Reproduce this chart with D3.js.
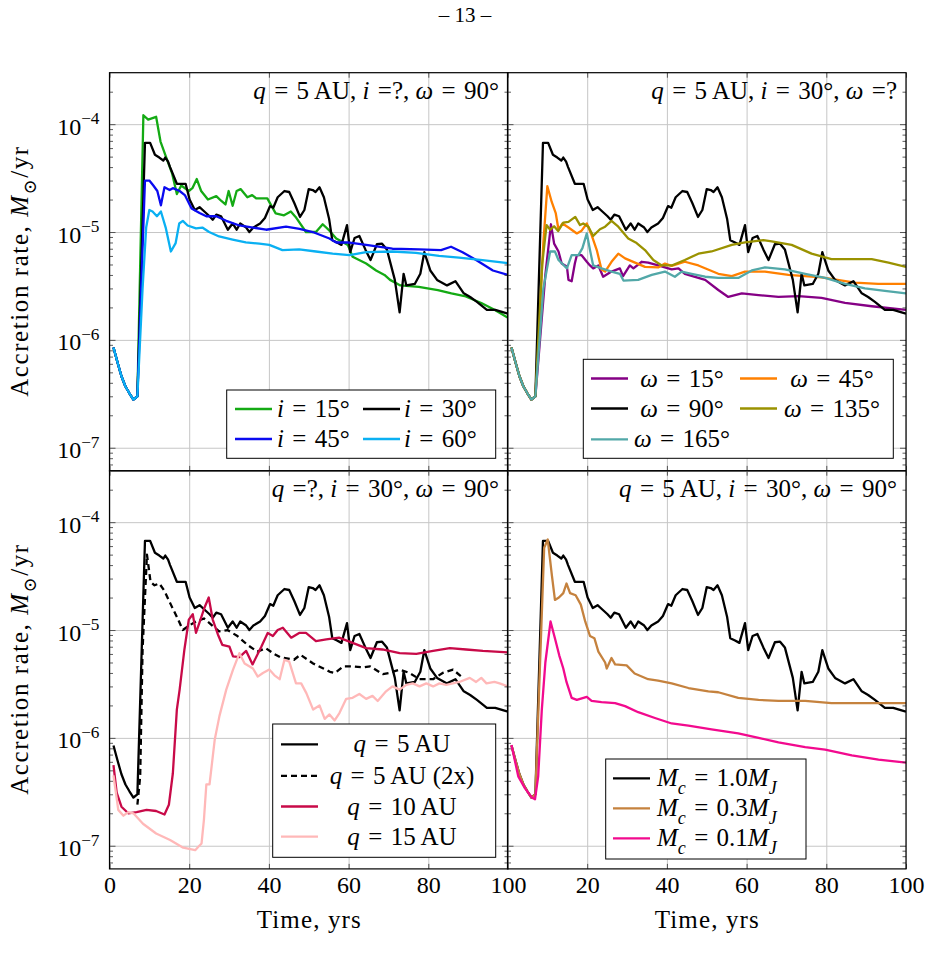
<!DOCTYPE html>
<html>
<head>
<meta charset="utf-8">
<script src="https://cdn.jsdelivr.net/npm/d3@7"></script>
<style>
  body { margin: 0; background: #fff; }
</style>
</head>
<body>
<svg id="chart" width="931" height="979" font-family="'Liberation Serif', 'DejaVu Serif', serif"></svg>
<script>
// ---- data: [time in yrs, accretion rate in Msun/yr] ----
const xTicks = [0, 20, 40, 60, 80, 100];
const yMajor = [1e-7, 1e-6, 1e-5, 1e-4];

// shared early dip before the capture (same in the i / omega / Mc runs)
const dip = [[1,8.5e-7],[2,6.2e-7],[3,4.6e-7],[4,3.7e-7],[5,3.2e-7],[6,2.8e-7],[7,3.0e-7]];

// reference run q = 5 AU, i = 30, omega = 90, Mc = 1.0 MJ
const refQ5 = dip.concat([[8.9,6.7e-5],[10.2,6.7e-5],[11.4,5.2e-5],[12.5,4.9e-5],[13.5,4.6e-5],[14,4.9e-5],[14.7,4.5e-5],[15.2,4.0e-5],[16.9,2.8e-5],[19.1,2.8e-5],[20.1,2.0e-5],[21.4,1.6e-5],[22.6,1.7e-5],[23.8,1.55e-5],[25.1,1.4e-5],[25.9,1.3e-5],[26.8,1.45e-5],[28,1.4e-5],[29.7,1.05e-5],[30.9,1.2e-5],[31.9,1.05e-5],[32.8,1.2e-5],[34.3,1.1e-5],[35.1,1.0e-5],[36.1,1.1e-5],[37.8,1.2e-5],[39,1.35e-5],[40.3,1.74e-5],[41.1,1.68e-5],[42.2,2.1e-5],[43.9,2.4e-5],[45.1,2.35e-5],[46.4,1.85e-5],[47.8,1.38e-5],[48.9,1.6e-5],[50,2.5e-5],[51,2.45e-5],[51.7,2.35e-5],[52.7,2.6e-5],[53.8,2.1e-5],[55.1,1.33e-5],[55.9,8.4e-6],[57.1,8e-6],[58.2,7.6e-6],[59.6,1.16e-5],[60.4,6.5e-6],[61.5,8.8e-6],[62.7,9.2e-6],[64.2,6.9e-6],[65.5,5.5e-6],[67.1,7.7e-6],[68.4,7.8e-6],[69.6,6.9e-6],[71.6,3.6e-6],[72.8,1.8e-6],[73.8,4.1e-6],[74.5,3.2e-6],[76.6,3.3e-6],[78,4.1e-6],[79,6.5e-6],[80.5,4.4e-6],[82.2,3.6e-6],[84.7,3.2e-6],[86.8,3.5e-6],[88.9,2.7e-6],[90.5,2.5e-6],[92.2,2.25e-6],[94.7,1.9e-6],[96.8,1.9e-6],[98.9,1.8e-6],[100,1.75e-6]]);

// panel 1: inclination
const inc15 = dip.concat([[8.5,1.21e-4],[9.7,1.1e-4],[11.7,1.17e-4],[12.8,6.9e-5],[14,5.2e-5],[15.7,3.5e-5],[16.9,2.25e-5],[18,2.7e-5],[19.9,2.4e-5],[20.8,2.55e-5],[21.9,3.1e-5],[23,2.4e-5],[24.7,2.0e-5],[26.8,2.15e-5],[28,1.95e-5],[29.1,1.8e-5],[29.9,2.4e-5],[30.9,1.75e-5],[31.9,2.4e-5],[32.9,2.5e-5],[34.6,2.1e-5],[35.8,2.2e-5],[36.8,2.05e-5],[39.6,2.05e-5],[41.7,1.49e-5],[43.8,1.43e-5],[45.5,1.55e-5],[46.7,1.38e-5],[49.3,1.0e-5],[51.8,1.0e-5],[53.5,1.18e-5],[55.2,1.03e-5],[56.9,8.7e-6],[59.8,7.6e-6],[61,5.9e-6],[64.4,5.1e-6],[66.9,4.4e-6],[69,4.0e-6],[70.4,3.6e-6],[73,3.2e-6],[77.6,3.1e-6],[82.4,2.9e-6],[85.8,2.7e-6],[89.1,2.55e-6],[93.3,2.2e-6],[96.6,1.9e-6],[100,1.6e-6]]);
const inc45 = dip.concat([[8.9,3.0e-5],[10,3.0e-5],[11,2.7e-5],[12,2.4e-5],[12.9,1.77e-5],[13.8,2.6e-5],[15.1,2.45e-5],[15.9,2.55e-5],[17.6,2.4e-5],[18.9,2.2e-5],[20.6,1.65e-5],[22.6,1.5e-5],[24.3,1.4e-5],[26.8,1.4e-5],[29.3,1.27e-5],[32.6,1.15e-5],[36,1.1e-5],[39.3,1.05e-5],[44.3,1.12e-5],[47.7,1.07e-5],[51,1.0e-5],[55.2,8.7e-6],[56.9,8.0e-6],[59.8,8.0e-6],[64.4,7.6e-6],[71,7.0e-6],[77.7,6.9e-6],[83.2,6.8e-6],[85.7,7.3e-6],[88.6,6.5e-6],[92,5.5e-6],[96.2,4.4e-6],[100,4.0e-6]]);
const inc60 = dip.concat([[8.3,3e-6],[9.2,1.1e-5],[10,1.6e-5],[10.8,1.55e-5],[11.9,1.4e-5],[12.9,1.55e-5],[14.1,1.1e-5],[15.4,6.6e-6],[16.6,7.9e-6],[17.5,1.2e-5],[18.4,1.27e-5],[19.6,1.15e-5],[21.7,1.08e-5],[23.3,1.1e-5],[25,1.0e-5],[27.5,9.1e-6],[30.9,8.5e-6],[34.2,8.0e-6],[37.6,7.8e-6],[40.1,7.6e-6],[43.4,6.8e-6],[47.6,6.9e-6],[51.8,6.6e-6],[56,6.3e-6],[60.2,6.1e-6],[64.4,6.5e-6],[71,6.6e-6],[76.9,6.4e-6],[82.7,6.0e-6],[87.7,5.8e-6],[93.6,5.5e-6],[100,5.15e-6]]);

// panel 2: argument of pericentre
const om15 = dip.concat([[9.5,4e-6],[10.9,1.18e-5],[11.7,7.8e-6],[12.8,6.6e-6],[13.6,5.1e-6],[14.9,4.8e-6],[15.3,3.6e-6],[16.1,3.5e-6],[16.9,5.1e-6],[17.4,6.1e-6],[18.6,6.1e-6],[19.9,5.3e-6],[20.7,4.9e-6],[21.5,4.6e-6],[22.8,4.9e-6],[24,3.85e-6],[26.1,4.3e-6],[28.2,4.6e-6],[29,3.9e-6],[30.7,4.9e-6],[31.6,4.6e-6],[33.7,5.3e-6],[35.3,5.2e-6],[37.8,4.9e-6],[41.2,4.5e-6],[42.9,4.6e-6],[44.5,4.1e-6],[49.6,3.6e-6],[52.9,2.9e-6],[55.4,2.5e-6],[58.8,2.7e-6],[63,2.6e-6],[68,2.5e-6],[73,2.55e-6],[78.8,2.45e-6],[84.7,2.2e-6],[91.4,2.05e-6],[100,1.9e-6]]);
const om45 = dip.concat([[9,8e-6],[10,2.66e-5],[11.1,1.9e-5],[12.1,1.5e-5],[12.8,1.05e-5],[13.8,1.2e-5],[15.3,1.1e-5],[17.4,9.7e-6],[18.6,1.03e-5],[19.9,1.2e-5],[21,9.6e-6],[22.4,6.8e-6],[23.6,4.5e-6],[24.5,4.3e-6],[26.1,5.3e-6],[27.8,6.3e-6],[29.5,5.7e-6],[32,5.2e-6],[34.5,4.75e-6],[37.8,4.7e-6],[39.5,5.1e-6],[41.2,4.85e-6],[44.5,5.3e-6],[47.9,4.9e-6],[52.9,4.1e-6],[56.3,3.9e-6],[59.6,4.3e-6],[64.6,4.3e-6],[70.5,4.0e-6],[78.8,3.8e-6],[87.2,3.4e-6],[93,3.3e-6],[100,3.3e-6]]);
const om135 = dip.concat([[8.7,5e-6],[9.8,1.16e-5],[10.7,1.05e-5],[11.7,1.13e-5],[12.7,1.02e-5],[14,1.22e-5],[15.3,1.24e-5],[17,1.38e-5],[18.2,1.16e-5],[19,1.2e-5],[20.3,1.12e-5],[21.5,9.2e-6],[23.2,1.06e-5],[24.5,1.12e-5],[26.1,1.27e-5],[27.8,1.12e-5],[30.3,8.7e-6],[32.4,7.9e-6],[34.5,6.8e-6],[36.6,5.5e-6],[38.7,4.9e-6],[41.2,4.9e-6],[44.5,5.5e-6],[47.9,6.3e-6],[51.2,6.6e-6],[56.3,7.6e-6],[59.6,8.0e-6],[64.2,8.4e-6],[66.3,8.2e-6],[71.3,7.6e-6],[76.3,6.3e-6],[81.3,5.6e-6],[87.2,5.6e-6],[91.4,5.6e-6],[95.6,5.2e-6],[100,4.75e-6]]);
const om165 = dip.concat([[9,3e-6],[10.7,6.6e-6],[11.9,6.6e-6],[12.8,5.5e-6],[14.9,4.6e-6],[16.1,6.1e-6],[17.8,6.1e-6],[18.8,7.1e-6],[19.9,9.7e-6],[20.7,6.8e-6],[21.5,4.9e-6],[23.6,4.6e-6],[26.1,4.3e-6],[28.2,4.1e-6],[29.1,3.55e-6],[32.8,3.6e-6],[36.2,4.0e-6],[39.5,4.3e-6],[42,3.85e-6],[43.7,4.3e-6],[46.2,4.1e-6],[49.6,3.85e-6],[52.9,3.75e-6],[57.9,3.75e-6],[61.3,4.4e-6],[64.6,4.7e-6],[69.6,4.5e-6],[74.7,4.1e-6],[79.7,3.75e-6],[84.7,3.3e-6],[89.7,3.0e-6],[94.7,2.85e-6],[100,2.7e-6]]);

// panel 3: pericentre distance
const q5x2 = [[7,2.4e-7],[7.7,4.4e-7],[8.3,6.6e-6],[9.4,5.0e-5],[10.3,2.8e-5],[11.3,2.6e-5],[12.5,2.7e-5],[13.8,2.3e-5],[15.4,1.72e-5],[17.1,1.28e-5],[18.4,1.0e-5],[20,1.1e-5],[21.7,1.2e-5],[23.7,1.28e-5],[25.8,1.1e-5],[27.5,9.7e-6],[29.6,1.0e-5],[32.1,8.8e-6],[34.6,7.3e-6],[37.1,6.3e-6],[39.2,6.8e-6],[41.3,6.0e-6],[42.8,5.6e-6],[46.3,5.3e-6],[47.9,5.9e-6],[51.1,4.9e-6],[55.3,4.1e-6],[56.6,4.0e-6],[58.7,4.6e-6],[61.2,4.6e-6],[63.7,4.5e-6],[65.4,4.6e-6],[68.6,3.9e-6],[70.2,4.0e-6],[72.8,4.3e-6],[75.3,4.0e-6],[77.8,3.5e-6],[81.2,3.5e-6],[83.6,4.0e-6],[86.2,4.3e-6],[88.3,3.7e-6]];
const q10 = [[1,5.6e-7],[1.8,3.1e-7],[3,2.3e-7],[4.7,2.0e-7],[6.8,2.05e-7],[9.3,2.15e-7],[11.7,2.1e-7],[13.8,1.95e-7],[14.9,2.4e-7],[15.9,4.7e-7],[16.9,1.83e-6],[17.6,2.8e-6],[18.8,6.6e-6],[19.9,1.25e-5],[20.9,1.4e-5],[21.7,9.4e-6],[23,1.3e-5],[23.8,1.6e-5],[24.9,2.0e-5],[25.9,1.25e-5],[27.2,9.1e-6],[28.3,7.3e-6],[30.1,7.0e-6],[31,5.7e-6],[32.6,5.6e-6],[34.3,6.4e-6],[35.9,4.8e-6],[38.1,7.0e-6],[39.7,9.4e-6],[41,8.8e-6],[42.2,1.0e-5],[43.5,1.05e-5],[45.6,8.5e-6],[47.6,9.4e-6],[49.3,9.4e-6],[51.8,7.9e-6],[54.4,8.2e-6],[57.6,8.5e-6],[61,7.6e-6],[64.4,6.8e-6],[68.5,6.6e-6],[72.8,6.1e-6],[77,6.0e-6],[81.2,6.4e-6],[85.4,6.8e-6],[89.5,6.6e-6],[93.7,6.4e-6],[100,6.2e-6]];
const q15 = [[1,4.5e-7],[2.2,2.15e-7],[3.5,1.9e-7],[4.7,2.05e-7],[6,2.0e-7],[8.4,1.6e-7],[11.7,1.3e-7],[15.2,1.13e-7],[18.5,9.6e-8],[21.5,9.1e-8],[22.3,9.8e-8],[23.1,1.05e-7],[23.7,1.75e-7],[24.3,3.7e-7],[25.1,3.7e-7],[26.4,9.6e-7],[27.6,1.6e-6],[29.3,2.8e-6],[31,4.3e-6],[32.6,6.1e-6],[33.9,4.9e-6],[36,4.4e-6],[37.2,3.7e-6],[38.5,4.0e-6],[40.1,4.3e-6],[41.4,3.8e-6],[42.7,3.5e-6],[43.9,5.3e-6],[45.1,5.1e-6],[46.8,3.2e-6],[48.1,3.2e-6],[49.4,2.6e-6],[51.1,1.83e-6],[52.7,2.0e-6],[54,1.5e-6],[55.2,1.65e-6],[56.5,1.45e-6],[57.7,1.7e-6],[59.4,2.3e-6],[61,2.35e-6],[62.7,2.55e-6],[64.4,2.3e-6],[66,2.45e-6],[67.3,2.2e-6],[69.4,2.7e-6],[71,3.0e-6],[72.8,2.8e-6],[74.5,3.1e-6],[76.1,3.2e-6],[77.8,3.0e-6],[79.5,3.2e-6],[81.2,3.0e-6],[82.8,3.2e-6],[84.5,3.1e-6],[87.8,3.3e-6],[90.4,3.6e-6],[92,3.3e-6],[93.3,3.6e-6],[94.6,3.2e-6],[96.6,3.3e-6],[97.9,3.2e-6],[100,3.0e-6]];

// panel 4: companion mass
const mc03 = dip.concat([[9.2,5.8e-5],[10.1,6.9e-5],[11.1,3.3e-5],[11.9,1.9e-5],[12.9,2.0e-5],[14,2.2e-5],[14.8,2.7e-5],[15.7,2.2e-5],[17.1,2.1e-5],[18.4,1.72e-5],[19.5,1.2e-5],[20.7,8.8e-6],[21.8,8.4e-6],[22.8,6.3e-6],[24.5,5.0e-6],[24.9,4.4e-6],[26.1,5.5e-6],[27,4.8e-6],[29.9,4.7e-6],[31.9,3.95e-6],[35.3,3.5e-6],[37.8,3.4e-6],[41.2,3.2e-6],[45.4,2.9e-6],[50.4,2.7e-6],[52.9,2.65e-6],[57.9,2.35e-6],[63,2.25e-6],[68,2.2e-6],[74.7,2.2e-6],[81.3,2.1e-6],[88,2.1e-6],[100,2.1e-6]]);
const mc01 = [[1,8.6e-7],[2.7,4.4e-7],[4.4,3.4e-7],[6.1,2.8e-7],[6.9,2.7e-7],[7.7,4.4e-7],[8.6,1.8e-6],[9.5,5e-6],[10.8,1.2e-5],[11.9,8.4e-6],[13,5.8e-6],[14,4.4e-6],[14.8,3.3e-6],[16.1,2.35e-6],[17.4,2.25e-6],[19.9,2.4e-6],[21.1,2.2e-6],[23.6,2.15e-6],[27,2.1e-6],[29.5,1.97e-6],[32.8,1.73e-6],[37,1.53e-6],[41.2,1.36e-6],[45.4,1.3e-6],[51.2,1.2e-6],[57.9,1.1e-6],[63,1.0e-6],[68,9.1e-7],[74.7,8.2e-7],[79.7,7.8e-7],[86.4,6.9e-7],[93.1,6.3e-7],[100,5.9e-7]];

// ---- layout ----
const FONT = "'Liberation Serif', 'DejaVu Serif', serif";
const FS = 25;
const EQ = "\u2004=\u2004";   // math spacing around "="
const colX = [109.5, 507.5], rowY = [72.7, 470.7];
const PW = 398.5, PH = 398.2;

const svg = d3.select("#chart");
svg.append("rect").attr("width", 931).attr("height", 979).attr("fill", "#fff");

// rich text helper: segs = [[text, kind]], kind: r roman, i italic, sub italic subscript, subr roman subscript
function rich(sel, segs, fs) {
  let shift = 0;
  segs.forEach(([t, k]) => {
    const sub = k === "sub" || k === "subr";
    const target = sub ? fs * 0.3 : 0;
    sel.append("tspan")
      .attr("dy", target - shift)
      .attr("font-style", (k === "i" || k === "sub") ? "italic" : "normal")
      .attr("font-size", sub ? fs * 0.72 : fs)
      .text(t);
    shift = target;
  });
}

svg.append("text").attr("x", 465).attr("y", 22).attr("text-anchor", "middle")
  .attr("font-family", FONT).attr("font-size", 21).text("– 13 –");

const panels = [
  { c: 0, r: 0,
    title: [["q","i"],[EQ + "5 AU, ","r"],["i","i"],["\u2004=?, ","r"],["ω","i"],[EQ + "90°","r"]],
    series: [
      { d: inc15, color: "#14aa14", lab: [["i","i"],[EQ + "15°","r"]] },
      { d: refQ5, color: "#000", lab: [["i","i"],[EQ + "30°","r"]] },
      { d: inc45, color: "#0a0af0", lab: [["i","i"],[EQ + "45°","r"]] },
      { d: inc60, color: "#0ab0f2", lab: [["i","i"],[EQ + "60°","r"]] }
    ],
    legend: { box: [226.7, 390, 269, 68.3], anchor: "start",
      slots: [[235, 409, 277], [363, 409, 404], [235, 439, 277], [363, 439, 404]] } },
  { c: 1, r: 0,
    title: [["q","i"],[EQ + "5 AU, ","r"],["i","i"],[EQ + "30°, ","r"],["ω","i"],["\u2004=?","r"]],
    series: [
      { d: om15, color: "#850085", lab: [["ω","i"],[EQ + "15°","r"]] },
      { d: om45, color: "#ff8000", lab: [["ω","i"],[EQ + "45°","r"]] },
      { d: refQ5, color: "#000", lab: [["ω","i"],[EQ + "90°","r"]] },
      { d: om135, color: "#9a9200", lab: [["ω","i"],[EQ + "135°","r"]] },
      { d: om165, color: "#52a8a8", lab: [["ω","i"],[EQ + "165°","r"]] }
    ],
    legend: { box: [583.3, 359.3, 310, 99], anchor: "middle",
      slots: [[591, 378.5, 682], [740, 378.5, 832], [591, 408.5, 682], [740, 408.5, 832], [591, 439.3, 682]] } },
  { c: 0, r: 1,
    title: [["q","i"],["\u2004=?, ","r"],["i","i"],[EQ + "30°, ","r"],["ω","i"],[EQ + "90°","r"]],
    series: [
      { d: refQ5, color: "#000", lab: [["q","i"],[EQ + "5 AU","r"]] },
      { d: q5x2, color: "#000", dash: "6,4", lab: [["q","i"],[EQ + "5 AU (2x)","r"]] },
      { d: q10, color: "#c80a48", lab: [["q","i"],[EQ + "10 AU","r"]] },
      { d: q15, color: "#ffb8b8", lab: [["q","i"],[EQ + "15 AU","r"]] }
    ],
    legend: { box: [272.7, 724, 223, 133.3], anchor: "middle",
      slots: [[281, 744.3, 402], [281, 775.8, 402], [281, 806.5, 402], [281, 836.7, 402]] } },
  { c: 1, r: 1,
    title: [["q","i"],[EQ + "5 AU, ","r"],["i","i"],[EQ + "30°, ","r"],["ω","i"],[EQ + "90°","r"]],
    series: [
      { d: refQ5, color: "#000", lab: [["M","i"],["c","sub"],[EQ + "1.0","r"],["M","i"],["J","sub"]] },
      { d: mc03, color: "#c5823e", lab: [["M","i"],["c","sub"],[EQ + "0.3","r"],["M","i"],["J","sub"]] },
      { d: mc01, color: "#f20a8e", lab: [["M","i"],["c","sub"],[EQ + "0.1","r"],["M","i"],["J","sub"]] }
    ],
    legend: { box: [605.7, 759, 200.3, 100], anchor: "start",
      slots: [[613, 778.3, 657], [613, 808.3, 657], [613, 838.3, 657]] } }
];

const minorTicks = [];
for (let e = -8; e <= -4; e++) for (let k = 2; k <= 9; k++) minorTicks.push(k * Math.pow(10, e));

panels.forEach((p, pi) => {
  const x0 = colX[p.c], y0 = rowY[p.r];
  const x = d3.scaleLinear().domain([0, 100]).range([x0, x0 + PW]);
  const y = d3.scaleLog().domain([6.1e-8, 3.0e-4]).range([y0 + PH, y0]);
  const minors = minorTicks.filter(v => v > 6.1e-8 && v < 3e-4);
  const g = svg.append("g");

  // grid
  g.append("g").attr("transform", `translate(0,${y0 + PH})`)
    .call(d3.axisBottom(x).tickValues(xTicks).tickSize(-PH).tickFormat(""))
    .call(a => a.select(".domain").remove())
    .call(a => a.selectAll("line").attr("stroke", "#c6c6c6").attr("stroke-width", 1));
  g.append("g").attr("transform", `translate(${x0},0)`)
    .call(d3.axisLeft(y).tickValues(yMajor).tickSize(-PW).tickFormat(""))
    .call(a => a.select(".domain").remove())
    .call(a => a.selectAll("line").attr("stroke", "#c6c6c6").attr("stroke-width", 1));

  // curves
  const clipId = "clip" + pi;
  svg.append("clipPath").attr("id", clipId).append("rect")
    .attr("x", x0).attr("y", y0).attr("width", PW).attr("height", PH);
  const line = d3.line().x(d => x(d[0])).y(d => y(d[1]));
  g.append("g").attr("clip-path", `url(#${clipId})`)
    .selectAll("path").data(p.series).join("path")
    .attr("d", s => line(s.d))
    .attr("fill", "none")
    .attr("stroke", s => s.color)
    .attr("stroke-width", 2.3)
    .attr("stroke-linejoin", "round")
    .attr("stroke-dasharray", s => s.dash || null);

  // inside tick marks
  const tickStyle = a => {
    a.select(".domain").remove();
    a.selectAll("line").attr("stroke", "#333").attr("stroke-width", 0.8);
    a.selectAll("text").remove();
  };
  g.append("g").attr("transform", `translate(0,${y0})`)
    .call(d3.axisTop(x).tickValues(xTicks).tickSize(-5)).call(tickStyle);
  g.append("g").attr("transform", `translate(${x0},0)`)
    .call(d3.axisLeft(y).tickValues(yMajor).tickSize(-6)).call(tickStyle);
  g.append("g").attr("transform", `translate(${x0 + PW},0)`)
    .call(d3.axisRight(y).tickValues(yMajor).tickSize(-6)).call(tickStyle);
  g.append("g").attr("transform", `translate(${x0},0)`)
    .call(d3.axisLeft(y).tickValues(minors).tickSize(-3.5)).call(tickStyle);
  g.append("g").attr("transform", `translate(${x0 + PW},0)`)
    .call(d3.axisRight(y).tickValues(minors).tickSize(-3.5)).call(tickStyle);

  // bottom axis, labelled on the lower row
  const xb = g.append("g").attr("transform", `translate(0,${y0 + PH})`)
    .call(d3.axisBottom(x).tickValues(p.c === 1 ? xTicks.slice(1) : xTicks).tickSize(-5).tickPadding(7));
  xb.attr("font-family", FONT);
  xb.select(".domain").remove();
  xb.selectAll("line").attr("stroke", "#333").attr("stroke-width", 0.8);
  xb.selectAll("text").attr("font-size", 24).attr("font-family", FONT).attr("fill", "#000");
  if (p.r === 0) xb.selectAll("text").remove();

  // y labels on the left column
  if (p.c === 0) {
    const yl = g.append("g").attr("transform", `translate(${x0},0)`)
      .call(d3.axisLeft(y).tickValues(yMajor).tickSize(0).tickPadding(10).tickFormat(""));
    yl.attr("font-family", FONT);
    yl.select(".domain").remove();
    yl.selectAll(".tick text").attr("font-size", 24).attr("font-family", FONT)
      .attr("fill", "#000").attr("dy", "0.42em")
      .each(function (d) {
        const t = d3.select(this);
        t.append("tspan").text("10");
        t.append("tspan").attr("dy", -24 * 0.45).attr("font-size", 24 * 0.72)
          .text("−" + Math.round(-Math.log10(d)));
      });
    // axis title
    const at = g.append("text")
      .attr("transform", `translate(28,${y0 + PH / 2}) rotate(-90)`)
      .attr("text-anchor", "middle").attr("font-family", FONT).attr("font-size", FS)
      .attr("textLength", 250).attr("lengthAdjust", "spacing");
    rich(at, [["Accretion rate, ","r"],["M","i"],["⊙","subr"],["/yr","r"]], FS);
  }
  if (p.r === 1) {
    g.append("text").attr("x", x0 + PW / 2).attr("y", 928).attr("text-anchor", "middle")
      .attr("font-family", FONT).attr("font-size", FS)
      .attr("textLength", 104).attr("lengthAdjust", "spacing").text("Time, yrs");
  }

  // frame
  g.append("rect").attr("x", x0).attr("y", y0).attr("width", PW).attr("height", PH)
    .attr("fill", "none").attr("stroke", "#000").attr("stroke-width", 1.2);

  // title
  const tt = g.append("text").attr("x", x0 + PW - 9).attr("y", y0 + 26)
    .attr("text-anchor", "end").attr("font-family", FONT).attr("font-size", FS);
  rich(tt, p.title, FS);

  // legend
  const L = p.legend;
  g.append("rect").attr("x", L.box[0]).attr("y", L.box[1]).attr("width", L.box[2]).attr("height", L.box[3])
    .attr("fill", "#fff").attr("stroke", "#000").attr("stroke-width", 1);
  p.series.forEach((s, i) => {
    const [lx, ly, tx] = L.slots[i];
    g.append("line").attr("x1", lx).attr("x2", lx + 37).attr("y1", ly).attr("y2", ly)
      .attr("stroke", s.color).attr("stroke-width", 2.3).attr("stroke-dasharray", s.dash || null);
    const lt = g.append("text").attr("x", tx).attr("y", ly + 8)
      .attr("text-anchor", L.anchor).attr("font-family", FONT).attr("font-size", FS);
    rich(lt, s.lab, FS);
  });
});
</script>
</body>
</html>
